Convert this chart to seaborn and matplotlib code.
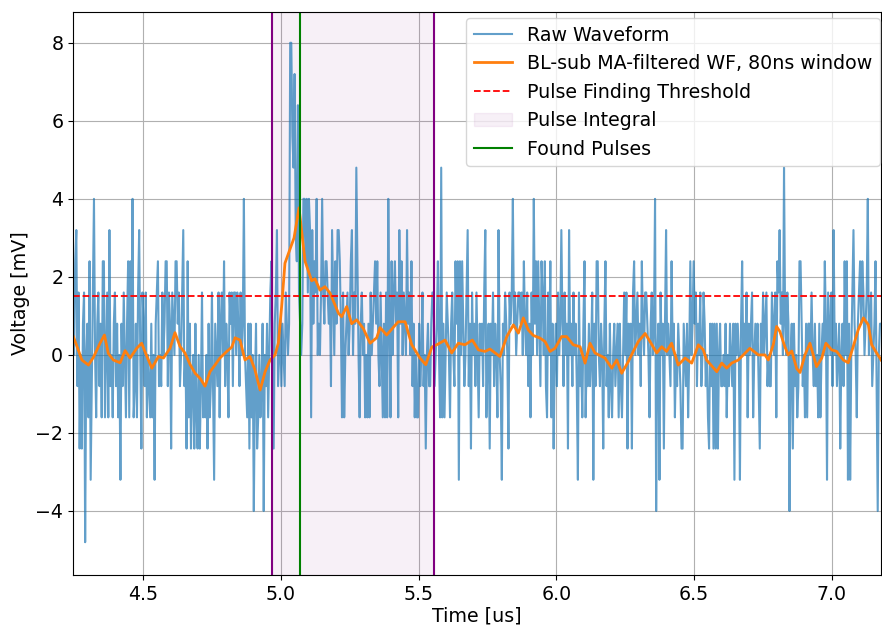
import numpy as np
import matplotlib
matplotlib.use("Agg")
import matplotlib.pyplot as plt
import seaborn as sns

# Digitizer settings
t_start_us = 4.246
dt_us = 0.004
mv_per_count = 0.8

# Raw waveform in ADC counts (4 ns samples)
raw_counts = [
    1, 0, 3, 4, -1, 2, -3, 0, -3, 1, 2, -6, 0, 1, -2, 3, -4, -1, 2, 5,
    0, -2, 1, 2, -1, 1, -2, 3, 3, -2, 0, 2, -2, 4, -1, 0, -2, 1, 2, -1,
    1, -2, 0, -4, 1, -1, 2, 0, -2, 1, 3, -2, 3, 0, 5, -2, -1, 1, -2, 2,
    4, 0, -3, 2, 1, -1, 2, -2, 0, -1, -2, 1, -2, 0, -4, 1, 2, 3, -1, 0,
    -1, 2, 0, 1, 3, 3, -1, 2, 1, -3, 2, 1, 0, 3, 3, 1, 2, -1, 0, 2,
    4, -1, 0, -3, 3, -2, 1, -3, -1, 0, -3, 1, -2, -3, 0, -3, -1, 2, -2, -1,
    -2, 0, -3, 1, -2, -1, 2, -1, -4, 1, 0, -1, 2, -2, 1, 2, 0, 3, -1, 1,
    0, -2, 2, 1, 2, -1, 2, 2, 0, 2, 1, -1, 2, 0, 1, 5, 0, -1, -2, 1,
    -3, 1, -2, 0, -5, -1, 1, -3, -2, 0, -2, -1, 1, -5, 0, -1, 1, -2, 0, 2,
    3, 0, -3, 1, 2, 4, -1, 0, 1, -1, 1, 0, -1, 2, 1, 0, 1, 10, 10, 7,
    6, 9, 4, 3, 8, 2, 1, 0, 1, 5, 5, 3, 5, 2, 5, 4, -2, 4, 1, 3,
    2, 5, 0, 1, 0, 2, 5, 2, 1, 3, 3, 2, 1, 2, -1, 4, 2, 0, 3, 1,
    4, 4, 3, 1, -2, 2, -2, 0, 1, 2, 0, 1, 3, 4, 0, 2, 1, 6, 3, 0,
    -2, 1, 2, 0, 1, -2, 0, -2, 1, -2, 2, 0, 1, 2, 3, 1, 3, 0, -1, 2,
    0, -2, 1, -2, 2, -2, 5, 1, -2, 3, 0, 2, 3, 1, 2, -2, 4, 1, 3, 0,
    2, 1, 0, 4, 1, 2, 0, 3, -1, 1, -2, 0, -2, -2, 1, -1, 0, 2, -1, 0,
    -3, 0, 1, -1, -1, 1, 2, 2, -1, 0, 1, 3, 0, -2, 6, -2, 1, -2, 0, 2,
    1, 0, -2, 1, 2, 0, -1, 3, 1, 3, -4, 3, 0, 3, 1, -1, 0, 2, 4, -1,
    1, -3, 2, 0, 1, -1, 2, 0, -2, 1, 0, 1, -1, 2, 4, -2, 0, 1, -3, 1,
    0, 2, -1, 1, 0, -2, 4, 0, -1, -4, 1, 0, 2, 1, 0, -3, 2, 1, 2, 5,
    1, 2, 0, 1, 2, 2, 1, 2, 0, 3, 1, 0, 2, -1, 1, -2, 2, 0, 5, 1,
    3, 0, 3, 1, -1, 3, 2, 0, 3, -1, -2, 2, 0, 3, -2, 1, -3, 0, 1, -1,
    2, 0, 1, 4, 1, -1, 2, 0, 1, -3, 4, 0, 1, -1, 2, 0, 1, -1, -4, 2,
    -1, 0, -2, 1, 3, -2, 0, -1, 1, -1, 0, 2, -4, 1, -1, 3, 3, 0, -1, 1,
    0, -3, 1, 3, -1, 0, -2, 1, -1, -2, 0, 1, -1, 0, 1, -2, 1, -1, -2, 0,
    2, 0, 2, -3, 1, 0, 1, -3, 2, 3, 0, 1, 2, 0, 1, -1, 3, 1, 0, 2,
    2, 1, 0, -2, 1, 2, 0, 1, 5, -5, 0, 1, -4, 2, 0, 1, -3, 1, 4, 0,
    1, 0, -1, 3, 0, 1, -2, 0, -1, 1, 0, -1, -3, -3, 1, 0, -1, 1, -2, 0,
    3, 0, 1, 3, 1, 2, -1, 1, 0, 2, -1, 0, 2, 1, -1, 0, -2, -3, 1, -1,
    1, -3, 1, -3, 1, -3, 0, 1, -1, -1, 0, -1, 1, -2, 0, -1, 1, 0, -1, 1,
    -4, 1, 0, 1, 0, -4, 1, 3, 0, 1, 0, 2, -2, 1, 0, 1, 2, -2, 0, 1,
    0, 1, -1, -3, 1, 0, 2, 0, 1, 2, -1, 0, -1, -1, 2, 1, 0, 2, -2, 3,
    2, 4, 1, 2, 0, 6, 1, 0, 2, 1, -5, 0, 1, -3, 1, -1, 0, -2, -1, 3,
    3, 1, -1, 0, -2, 1, -2, 1, 1, 0, 2, 0, -1, 1, -1, 0, -2, 1, -2, 0,
    1, 0, 3, 1, -4, 2, 1, 0, 2, -1, 4, 0, 1, -1, 0, 1, -3, 0, 1, -1,
    3, 0, 3, -4, 1, -4, 0, 2, 4, 1, 0, -2, 1, 2, 3, 1, 3, 2, 0, 1,
    2, 5, 0, 1, 2, -1, 0, 1, 3, -1, -5, 0, 1, 1,
]

# Baseline-subtracted moving-average waveform (time in us, voltage in mV)
ma_time_us = [
    4.247, 4.265, 4.278, 4.302, 4.320, 4.344, 4.360, 4.374, 4.392, 4.417,
    4.435, 4.453, 4.477, 4.495, 4.513, 4.532, 4.556, 4.574, 4.598, 4.616,
    4.634, 4.652, 4.671, 4.689, 4.707, 4.725, 4.743, 4.761, 4.779, 4.804,
    4.822, 4.834, 4.852, 4.870, 4.888, 4.906, 4.925, 4.943, 4.961, 4.979,
    4.991, 5.003, 5.015, 5.033, 5.048, 5.066, 5.088, 5.112, 5.124, 5.142,
    5.160, 5.179, 5.209, 5.221, 5.239, 5.257, 5.275, 5.299, 5.324, 5.348,
    5.360, 5.384, 5.426, 5.451, 5.475, 5.505, 5.526, 5.548, 5.571, 5.596,
    5.620, 5.644, 5.668, 5.695, 5.717, 5.741, 5.759, 5.795, 5.820, 5.844,
    5.862, 5.880, 5.898, 5.916, 5.941, 5.959, 5.977, 5.995, 6.019, 6.037,
    6.061, 6.086, 6.104, 6.122, 6.140, 6.176, 6.201, 6.219, 6.237, 6.261,
    6.279, 6.297, 6.322, 6.340, 6.364, 6.382, 6.400, 6.418, 6.442, 6.467,
    6.491, 6.515, 6.533, 6.545, 6.582, 6.600, 6.618, 6.636, 6.660, 6.678,
    6.702, 6.733, 6.757, 6.769, 6.787, 6.799, 6.811, 6.829, 6.841, 6.854,
    6.872, 6.884, 6.902, 6.920, 6.944, 6.963, 6.978, 6.999, 7.017, 7.041,
    7.059, 7.077, 7.095, 7.114, 7.132, 7.144, 7.162, 7.174, 7.178,
]
ma_mv = [
    0.47, 0.13, -0.13, -0.26, -0.06, 0.30, 0.51, 0.04, -0.13, -0.20,
    0.11, -0.08, 0.17, 0.30, -0.02, -0.34, -0.04, -0.08, 0.17, 0.57,
    0.22, 0.05, -0.25, -0.47, -0.60, -0.80, -0.43, -0.26, -0.08, 0.09,
    0.20, 0.44, 0.38, -0.13, -0.04, -0.38, -0.90, -0.43, -0.13, 0.00,
    0.30, 1.24, 2.35, 2.70, 3.00, 3.77, 2.40, 1.90, 1.95, 1.66,
    1.75, 1.58, 1.07, 0.98, 1.24, 0.80, 0.90, 0.68, 0.30, 0.44,
    0.70, 0.51, 0.85, 0.85, 0.26, -0.08, -0.25, 0.20, 0.28, 0.38,
    0.05, 0.30, 0.26, 0.38, 0.13, 0.09, 0.15, -0.04, 0.47, 0.77,
    0.56, 0.95, 0.64, 0.50, 0.43, 0.34, 0.09, 0.17, 0.47, 0.47,
    0.26, 0.21, -0.21, 0.30, 0.05, -0.08, -0.34, -0.13, -0.47, -0.17,
    0.09, 0.34, 0.55, 0.34, 0.05, 0.21, 0.09, 0.30, -0.26, -0.08,
    -0.21, 0.26, 0.13, -0.13, -0.43, -0.21, -0.34, -0.21, -0.13, 0.00,
    0.17, 0.00, 0.00, -0.13, 0.26, 0.73, 0.60, 0.21, 0.00, 0.10,
    -0.35, -0.45, 0.00, 0.30, -0.30, -0.08, 0.30, 0.13, 0.09, -0.13,
    -0.20, 0.21, 0.64, 0.95, 0.77, 0.26, 0.05, -0.08, -0.13,
]

threshold_mv = 1.5
integral_window_us = (4.968, 5.556)
found_pulse_us = [5.070]

raw_time_us = t_start_us + dt_us * np.arange(len(raw_counts))
raw_mv = np.array(raw_counts) * mv_per_count

plt.rcParams["font.family"] = ["DejaVu Sans"]
plt.rcParams["font.size"] = 13.7

fig = plt.figure(figsize=(8.82, 6.26), dpi=100)
ax = fig.add_axes([0.0828, 0.0815, 0.9161, 0.8994])

sns.lineplot(x=raw_time_us, y=raw_mv, ax=ax, color="tab:blue", alpha=0.7,
             linewidth=1.5, label="Raw Waveform", sort=False)
sns.lineplot(x=ma_time_us, y=ma_mv, ax=ax, color="tab:orange", linewidth=2,
             label="BL-sub MA-filtered WF, 80ns window", sort=False)
ax.axhline(threshold_mv, color="red", linestyle="--", linewidth=1.3,
           label="Pulse Finding Threshold")
ax.axvspan(*integral_window_us, color="purple", alpha=0.06, label="Pulse Integral")
for edge in integral_window_us:
    ax.axvline(edge, color="purple", linewidth=1.5)
for i, tp in enumerate(found_pulse_us):
    ax.axvline(tp, color="green", linewidth=1.5,
               label="Found Pulses" if i == 0 else None)

ax.set_xlim(raw_time_us[0], raw_time_us[-1])
ax.set_ylim(-5.64, 8.79)
ax.set_xlabel("Time [us]", labelpad=2)
ax.set_ylabel("Voltage [mV]")
ax.grid(True, color="#b0b0b0", linewidth=0.8)
ax.set_axisbelow(True)
ax.legend(loc="upper right", bbox_to_anchor=(880 / 882, 1 - 18 / 626),
          bbox_transform=fig.transFigure, borderaxespad=0)

fig.savefig("out.png", dpi=100)
